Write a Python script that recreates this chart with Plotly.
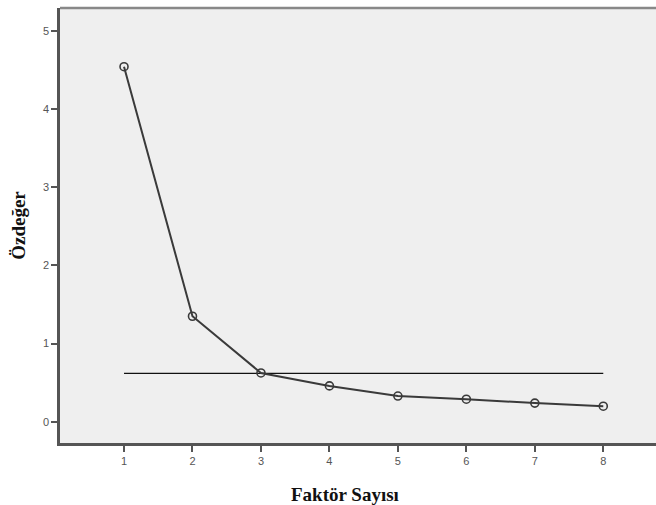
import plotly.graph_objects as go

factors = [1, 2, 3, 4, 5, 6, 7, 8]
eigenvalues = [4.54, 1.35, 0.625, 0.46, 0.33, 0.29, 0.24, 0.20]
ref_x = [1, 8]
ref_y = [0.62, 0.62]
y_ticks = [0, 1, 2, 3, 4, 5]

fig = go.Figure()
fig.add_trace(go.Scatter(x=ref_x, y=ref_y, mode="lines",
                         line=dict(color="#111111", width=1.2), hoverinfo="skip"))
fig.add_trace(go.Scatter(x=factors, y=eigenvalues, mode="lines+markers",
                         line=dict(color="#3a3a3a", width=2),
                         marker=dict(symbol="circle-open", size=8, color="#3a3a3a",
                                     line=dict(width=1.6))))

fig.update_layout(
    width=656, height=505,
    margin=dict(l=60, r=0, t=8, b=62),
    paper_bgcolor="white",
    plot_bgcolor="#efefef",
    showlegend=False,
    xaxis=dict(range=[0.065, 8.77], tickvals=factors, ticks="outside", ticklen=6,
               tickcolor="#555", tickwidth=1.5, showgrid=False, zeroline=False,
               showline=True, linecolor="#555", linewidth=2.5, automargin=False,
               tickfont=dict(family="Arial, Liberation Sans", size=11, color="#555")),
    yaxis=dict(range=[-0.27, 5.29], tickvals=y_ticks, ticks="outside", ticklen=6,
               tickcolor="#555", tickwidth=1.5, showgrid=False, zeroline=False,
               showline=True, linecolor="#555", linewidth=2.5, automargin=False,
               tickfont=dict(family="Arial, Liberation Sans", size=11, color="#555"),
               title=dict(text="<b>Özdeğer</b>", standoff=13,
                          font=dict(family="Liberation Serif, Times New Roman", size=19, color="#111"))),
    shapes=[dict(type="line", xref="paper", yref="paper", x0=0, x1=1, y0=1, y1=1,
                 line=dict(color="#888", width=2.5))],
    annotations=[dict(text="<b>Faktör Sayısı</b>", xref="paper", yref="paper",
                      x=0.478, y=0, yshift=-51, xanchor="center", yanchor="middle",
                      showarrow=False,
                      font=dict(family="Liberation Serif, Times New Roman", size=19, color="#111"))],
)

fig.write_html("out.html", config={"displayModeBar": False},
               post_script="document.body.style.margin='0';")
